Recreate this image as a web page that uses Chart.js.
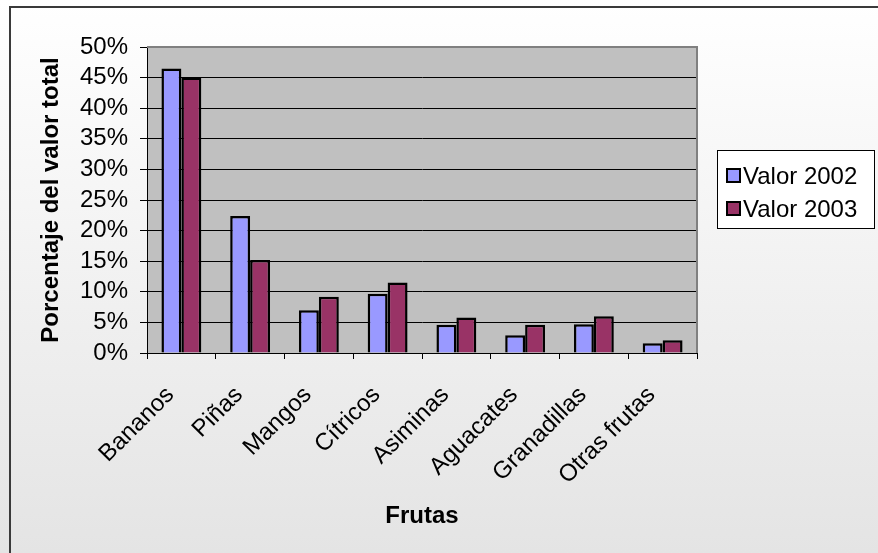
<!DOCTYPE html>
<html lang="es">
<head>
<meta charset="utf-8">
<title>Frutas</title>
<script src="https://cdn.jsdelivr.net/npm/chart.js@4.4.0/dist/chart.umd.min.js"></script>
<style>
    html, body { margin: 0; padding: 0; background: #fff; }
    #wrap { width: 878px; height: 553px; position: relative; }
</style>
</head>
<body>
<div id="wrap"><canvas id="frutas"></canvas></div>
<script>
const FRUTAS = ['Bananos', 'Piñas', 'Mangos', 'Cítricos', 'Asiminas', 'Aguacates', 'Granadillas', 'Otras frutas'];
const VALOR_2002 = [46.5, 22.4, 7.0, 9.7, 4.6, 2.9, 4.7, 1.6];
const VALOR_2003 = [45.0, 15.2, 9.2, 11.5, 5.8, 4.6, 6.0, 2.1];
const Y_TICKS = [0, 5, 10, 15, 20, 25, 30, 35, 40, 45, 50];

const FONT = '"Liberation Sans", Arial, Helvetica, sans-serif';
Chart.defaults.font.family = FONT;
Chart.defaults.color = '#000';

// fondo degradado, marco exterior y fondo gris del área de trazado
const fondo = {
    id: 'fondo',
    beforeDraw(chart) {
        const { ctx, width, height, chartArea: a } = chart;
        ctx.save();
        const g = ctx.createLinearGradient(0, 0, 0, height);
        g.addColorStop(0, '#ffffff');
        g.addColorStop(1, '#e4e4e4');
        ctx.fillStyle = g;
        ctx.fillRect(0, 0, width, height);
        ctx.strokeStyle = '#3a3a3a';
        ctx.lineWidth = 2;
        ctx.beginPath();
        ctx.moveTo(10, height + 2);
        ctx.lineTo(10, 7);
        ctx.lineTo(width + 2, 7);
        ctx.stroke();
        ctx.fillStyle = '#c0c0c0';
        ctx.fillRect(a.left, a.top, a.right - a.left, a.bottom - a.top);
        ctx.restore();
    },
    afterDraw(chart) {
        const { ctx, chartArea: a } = chart;
        ctx.save();
        ctx.strokeStyle = '#808080';
        ctx.lineWidth = 2;
        ctx.beginPath();
        ctx.moveTo(a.left, a.top);
        ctx.lineTo(a.right, a.top);
        ctx.lineTo(a.right, a.bottom);
        ctx.stroke();
        ctx.restore();
    },
};

// leyenda en recuadro a la derecha
const leyenda = {
    id: 'leyenda',
    afterDraw(chart) {
        const { ctx } = chart;
        const x = 717, y = 150, w = 157, h = 78;
        ctx.save();
        ctx.fillStyle = '#fff';
        ctx.fillRect(x, y, w, h);
        ctx.strokeStyle = '#000';
        ctx.lineWidth = 1;
        ctx.strokeRect(x + 0.5, y + 0.5, w, h);
        ctx.font = '24px ' + FONT;
        ctx.textBaseline = 'middle';
        chart.data.datasets.forEach((ds, i) => {
            const cy = y + 26 + i * 33;
            ctx.fillStyle = ds.backgroundColor;
            ctx.fillRect(x + 10, cy - 7, 13, 13);
            ctx.lineWidth = 2;
            ctx.strokeRect(x + 10, cy - 7, 13, 13);
            ctx.fillStyle = '#000';
            ctx.fillText(ds.label, x + 26, cy + 1);
        });
        ctx.restore();
    },
};

new Chart(document.getElementById('frutas'), {
    type: 'bar',
    data: {
        labels: FRUTAS,
        datasets: [
            { label: 'Valor 2002', data: VALOR_2002, backgroundColor: '#9999ff', borderColor: '#000', borderWidth: 2.5 },
            { label: 'Valor 2003', data: VALOR_2003, backgroundColor: '#993366', borderColor: '#000', borderWidth: 2.5 },
        ],
    },
    options: {
        responsive: true,
        maintainAspectRatio: false,
        animation: false,
        categoryPercentage: 0.58,
        barPercentage: 1,
        layout: { padding: { top: 47, right: 181, bottom: 0, left: 0 } },
        plugins: { legend: { display: false }, tooltip: { enabled: false } },
        scales: {
            x: {
                grid: { drawOnChartArea: false, color: '#000', tickLength: 6 },
                border: { color: '#000', width: 1 },
                ticks: { font: { size: 24 }, minRotation: 45, maxRotation: 45, autoSkip: false, padding: 22, labelOffset: -11 },
                title: { display: true, text: 'Frutas', font: { size: 24, weight: 'bold', lineHeight: 1.2 }, padding: { top: 0, bottom: 22 } },
                afterFit: (s) => { s.height = 200; },
            },
            y: {
                min: 0,
                max: 50,
                afterBuildTicks: (s) => { s.ticks = Y_TICKS.map((v) => ({ value: v })); },
                grid: { color: '#000', tickLength: 7 },
                border: { color: '#000', width: 1 },
                ticks: { font: { size: 24 }, padding: 12, autoSkip: false, callback: (v) => v + '%' },
                title: { display: true, text: 'Porcentaje del valor total', font: { size: 24, weight: 'bold', lineHeight: 1.2 }, padding: { top: 37, bottom: 0 } },
                afterFit: (s) => { s.width = 147; },
            },
        },
    },
    plugins: [fondo, leyenda],
});
</script>
</body>
</html>
